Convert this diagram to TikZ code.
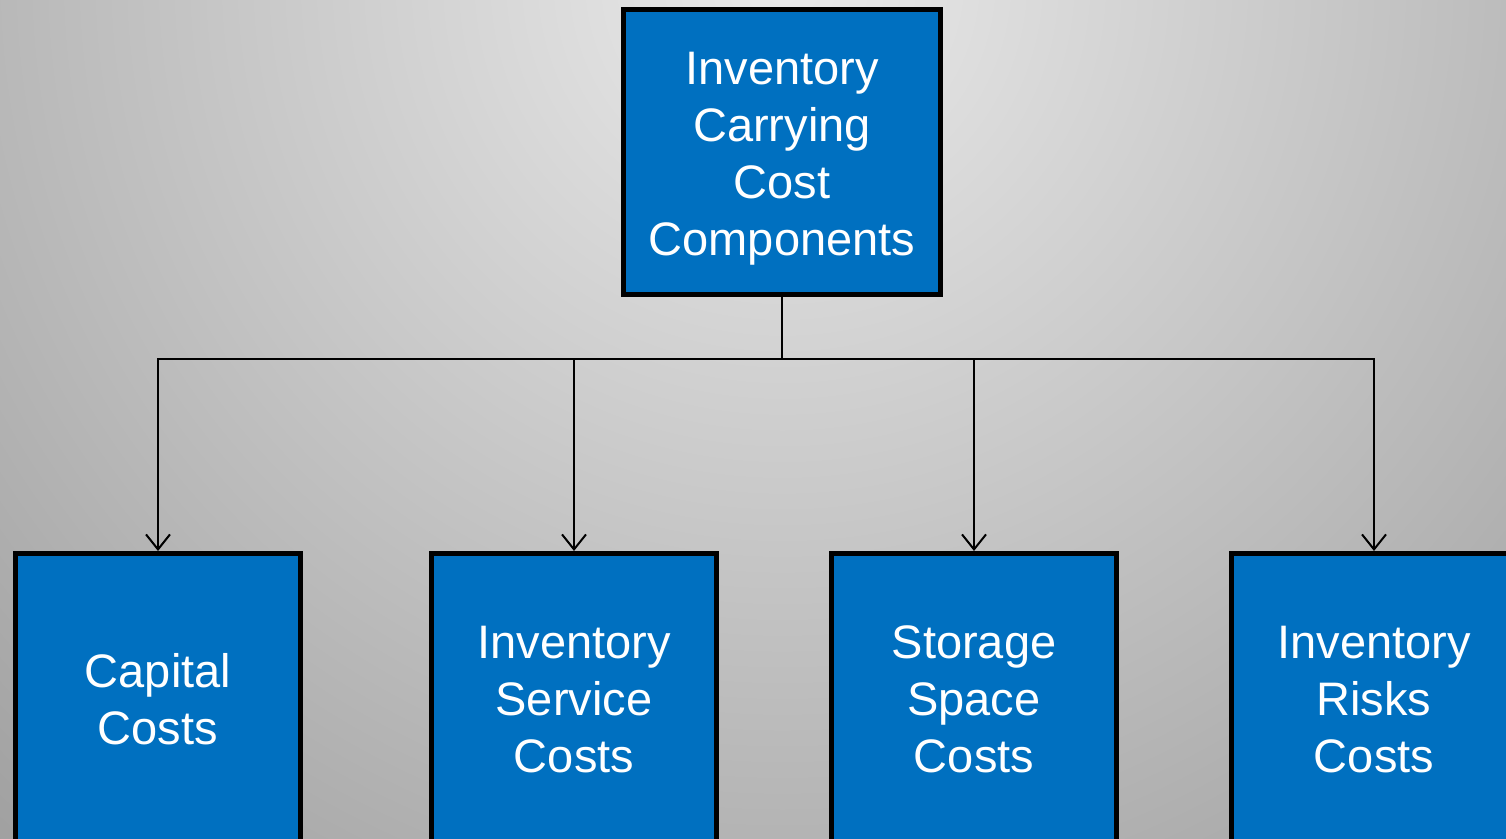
\documentclass[tikz,border=0pt]{standalone}
\usepackage{fontspec}
\setmainfont{Liberation Sans}
\usetikzlibrary{arrows.meta}
\definecolor{boxblue}{HTML}{0070C0}
\definecolor{bginner}{HTML}{EAEAEA}
\definecolor{bgouter}{HTML}{9E9E9E}
\begin{document}
\begin{tikzpicture}[x=1pt,y=1pt,
  box/.style={draw=black, line width=5pt, fill=boxblue, text=white,
    font=\fontsize{47}{57}\selectfont, align=center, inner sep=0pt},
  topbox/.style={box, minimum width=317pt, minimum height=285pt, text height=216pt},
  leafbox/.style={box, minimum width=285pt, minimum height=292pt},
  conn/.style={draw=black, line width=2pt},
  connarrow/.style={conn, -{Straight Barb[length=15pt,width=24pt,line width=2pt]}}]
\useasboundingbox (0,0) rectangle (1506,-838);
\begin{scope}
\clip (0,0) rectangle (1506,-838);
\shade[inner color=bginner, outer color=bgouter] (782,20) circle (1200);
\node[topbox] (top) at (782,-152) {Inventory\\Carrying\\Cost\\Components};
\node[leafbox, anchor=north] (capital) at (158,-551) {Capital\\Costs};
\node[leafbox, anchor=north] (service) at (574,-551) {Inventory\\Service\\Costs};
\node[leafbox, anchor=north] (storage) at (974,-551) {Storage\\Space\\Costs};
\node[leafbox, anchor=north] (risks) at (1374,-551) {Inventory\\Risks\\Costs};
\coordinate (bus) at (782,-359);
\draw[conn] (top.south) -- (bus);
\draw[connarrow] (bus) -| (capital.north);
\draw[connarrow] (bus) -| (service.north);
\draw[connarrow] (bus) -| (storage.north);
\draw[connarrow] (bus) -| (risks.north);
\end{scope}
\end{tikzpicture}
\end{document}
